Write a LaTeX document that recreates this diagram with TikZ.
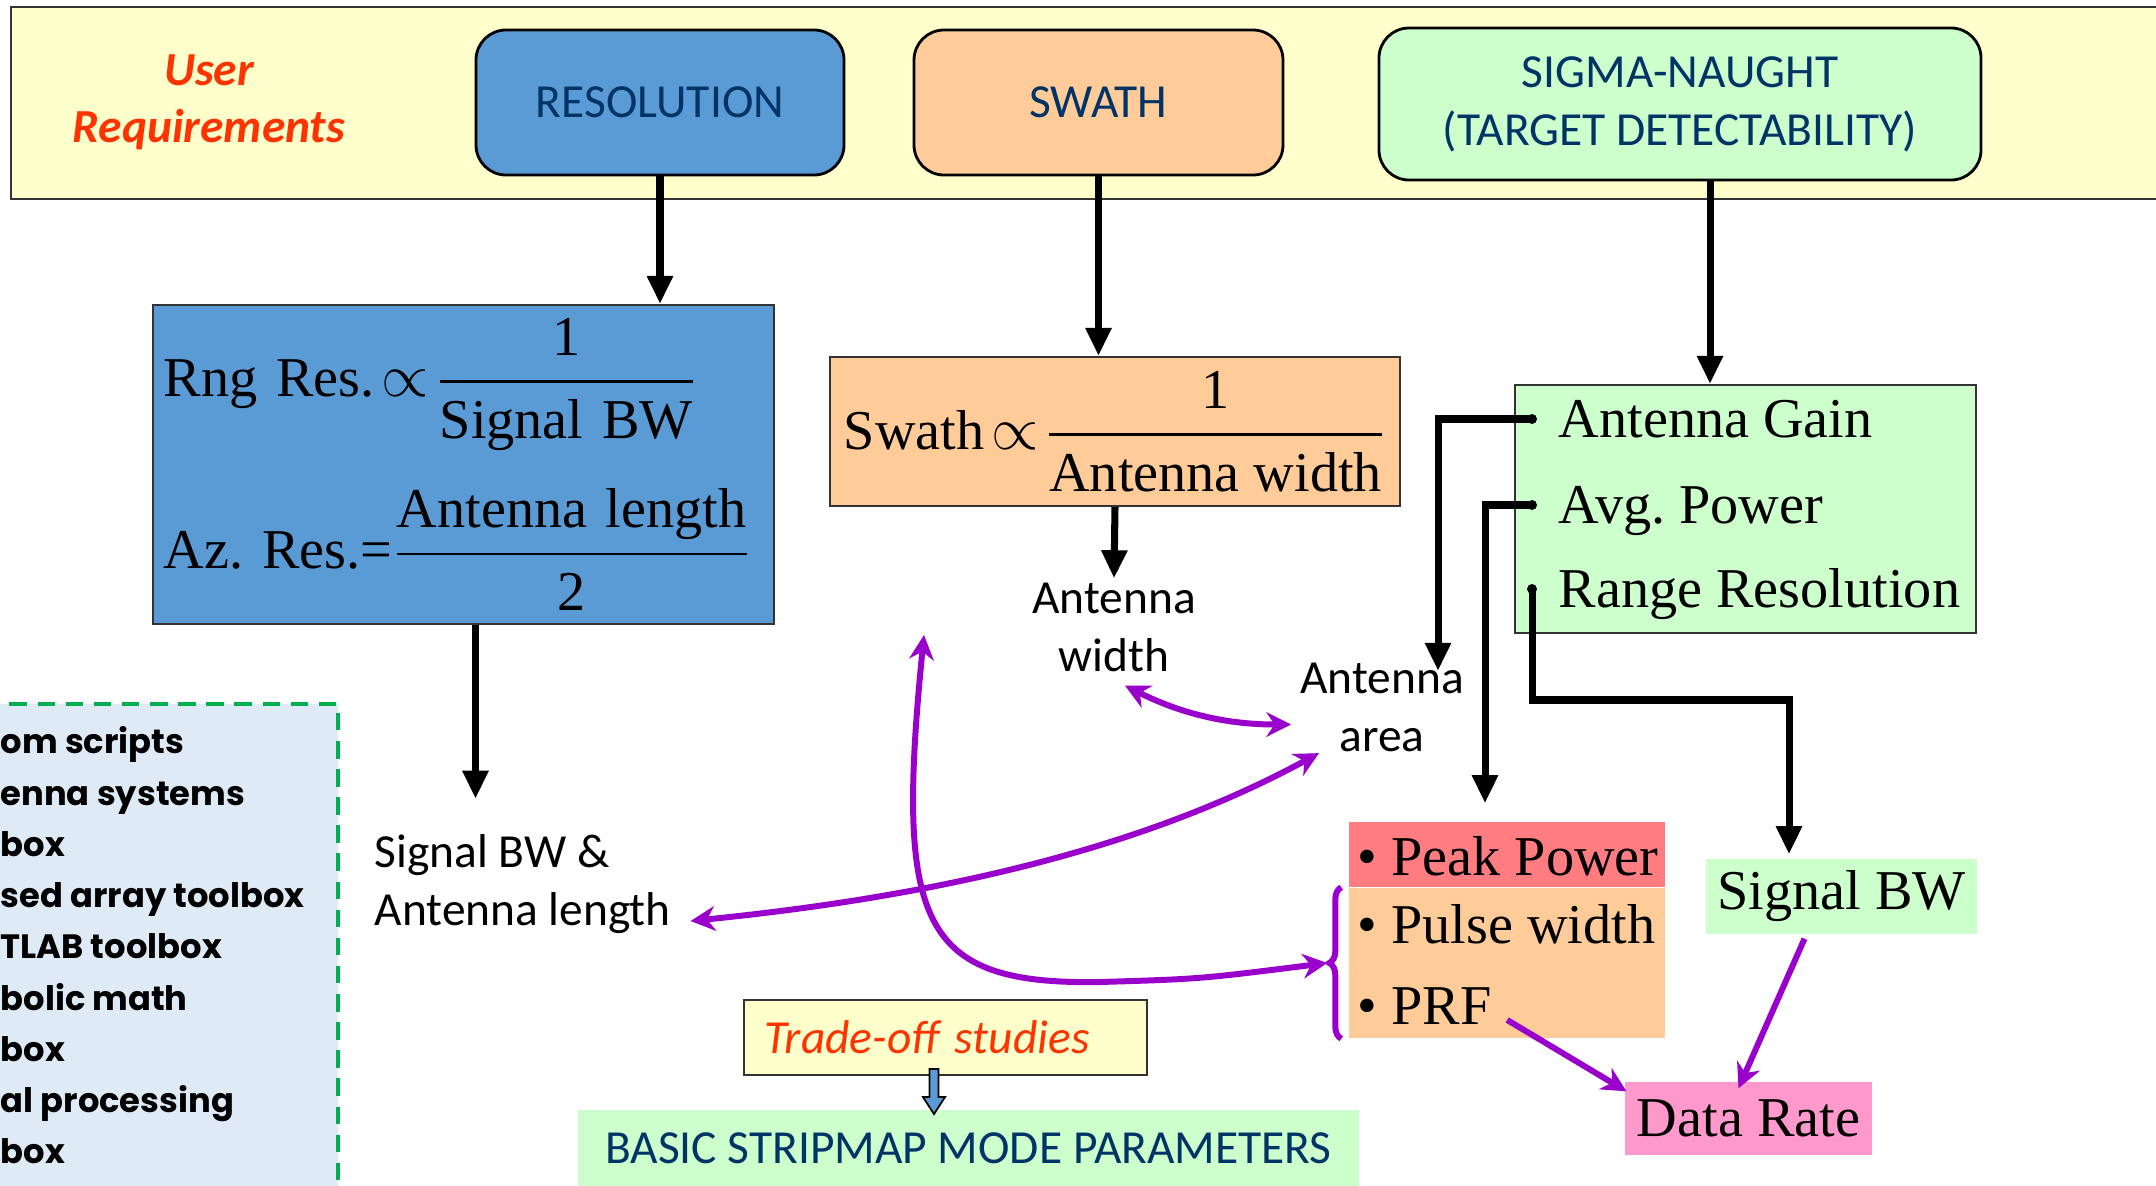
\documentclass[tikz,border=0pt]{standalone}
\usepackage{fontspec}
\usepackage{amsmath}
\setmainfont{Liberation Serif}
\setsansfont{Carlito}
\newfontfamily\toolfont{Poppins}
\frenchspacing
\usetikzlibrary{arrows.meta,positioning,calc,decorations.pathreplacing}

\definecolor{bandyellow}{HTML}{FFFFCC}
\definecolor{resblue}{HTML}{5B9BD5}
\definecolor{swpeach}{HTML}{FFCC99}
\definecolor{siggreen}{HTML}{CCFFCC}
\definecolor{navytxt}{HTML}{003366}
\definecolor{reqred}{HTML}{FF3300}
\definecolor{peakred}{HTML}{FF7C80}
\definecolor{ratepink}{HTML}{FF99CC}
\definecolor{linkpurple}{HTML}{9900CC}
\definecolor{toolblue}{HTML}{DEEBF7}
\definecolor{toolgreen}{HTML}{00B050}

\tikzset{
  reqbox/.style={draw=black, line width=0.8pt, rounded corners=0.3cm, text=navytxt, align=center,
    font=\sffamily\fontsize{13.5}{16.5}\selectfont},
  eqbox/.style={draw=black!80, line width=0.6pt, font=\fontsize{16}{19}\selectfont},
  partxt/.style={inner sep=0pt, font=\fontsize{16}{19}\selectfont},
  lbl/.style={font=\sffamily\fontsize{13.5}{16.5}\selectfont, align=center, inner sep=1pt},
  bul/.style={circle, fill=black, inner sep=0pt, minimum size=0.1cm},
  blk/.style={line width=2pt, -{Triangle[width=7pt,length=8pt]}},
  plink/.style={linkpurple, line width=1.7pt, -{Stealth[length=7pt,width=7pt]}},
  pboth/.style={plink, {Stealth[length=7pt,width=7pt]}-{Stealth[length=7pt,width=7pt]}},
  toolline/.style={font=\toolfont\bfseries\fontsize{9.6}{12}\selectfont, anchor=base west, inner sep=0pt}
}

\begin{document}
\begin{tikzpicture}
\useasboundingbox (0,0) rectangle (21.56,11.85);
\clip (0,0) rectangle (21.56,11.85);

% user requirements band
\filldraw[fill=bandyellow, draw=black!80, line width=0.8pt] (0.11,9.86) rectangle (22,11.78);
\node[font=\sffamily\bfseries\itshape\fontsize{13.5}{16.2}\selectfont, text=reqred, align=center] (usreq) at (2.09,10.83) {User\\Requirements};
\node[reqbox, fill=resblue, minimum width=3.68cm, minimum height=1.45cm] (res) at (6.60,10.825) {RESOLUTION};
\node[reqbox, fill=swpeach, minimum width=3.69cm, minimum height=1.45cm] (swath) at (10.985,10.825) {SWATH};
\node[reqbox, fill=siggreen, minimum width=6.02cm, minimum height=1.52cm] (sigma) at (16.80,10.81) {SIGMA-NAUGHT\\(TARGET DETECTABILITY)};

% tools list (cut by the left edge)
\filldraw[fill=toolblue, draw=toolgreen, line width=1.3pt, dash pattern=on 5pt off 3pt] (-0.5,-0.5) rectangle (3.38,4.81);
\node[toolline] (tl1) at (0,4.32) {om scripts};
\node[toolline] (tl2) at (0,3.80) {enna systems};
\node[toolline] (tl3) at (0,3.29) {box};
\node[toolline] (tl4) at (0,2.78) {sed array toolbox};
\node[toolline] (tl5) at (0,2.27) {TLAB toolbox};
\node[toolline] (tl6) at (0,1.75) {bolic math};
\node[toolline] (tl7) at (0,1.24) {box};
\node[toolline] (tl8) at (0,0.73) {al processing};
\node[toolline] (tl9) at (0,0.22) {box};

% relations
\node[eqbox, fill=resblue, minimum width=6.21cm, minimum height=3.19cm, text width=5.99cm, inner xsep=0.11cm, align=left] (resf) at (4.635,7.205)
  {$\text{Rng Res.}\!\propto\!\dfrac{\text{1}}{\text{Signal BW}}$\\[0.35cm]
   $\text{Az. Res.=}\dfrac{\text{Antenna length}}{\text{2}}$};
\node[eqbox, fill=swpeach, minimum width=5.70cm, minimum height=1.49cm] (swf) at (11.15,7.535)
  {$\text{Swath}\!\propto\!\dfrac{\text{1}}{\text{Antenna width}}$};
\node[draw=black!80, line width=0.6pt, fill=siggreen, minimum width=4.61cm, minimum height=2.48cm] (sgain) at (17.455,6.76) {};
\node[bul] (bgain) at (15.32,7.66) {};
\node[bul] (bavg) at (15.32,6.80) {};
\node[bul] (brng) at (15.32,5.96) {};
\node[partxt, anchor=base west] (gain) at (15.58,7.48) {Antenna Gain};
\node[partxt, anchor=base west] (avgp) at (15.58,6.62) {Avg. Power};
\node[partxt, anchor=base west] (rngres) at (15.58,5.78) {Range Resolution};

\node[lbl, align=left, anchor=west, inner sep=0pt] (sigant) at (3.74,3.01) {Signal BW \&\\Antenna length};
\node[lbl] (antw) at (11.14,5.58) {Antenna\\width};
\node[lbl] (antar) at (13.82,4.775) {Antenna\\area};

% pulse parameters
\node[fill=peakred, minimum width=3.16cm, minimum height=0.65cm] (pp) at (15.07,3.305) {};
\node[partxt, anchor=west] (ppow) at (13.57,3.29) {• Peak Power};
\node[fill=swpeach, minimum width=3.16cm, minimum height=1.50cm] (pw) at (15.07,2.22) {};
\node[partxt, anchor=west] (pwid) at (13.57,2.61) {• Pulse width};
\node[partxt, anchor=west] (prf) at (13.57,1.79) {• PRF};
\node[fill=siggreen, minimum width=2.63cm, minimum height=0.75cm, font=\fontsize{16}{19}\selectfont] (sbw) at (18.415,2.885) {Signal BW};
\node[fill=ratepink, minimum width=2.35cm, minimum height=0.73cm, font=\fontsize{16}{19}\selectfont] (dr) at (17.485,0.665) {Data Rate};
\draw[linkpurple, line width=1.7pt, decorate, decoration={brace, amplitude=0.12cm}] ([xshift=-0.07cm]pw.south west) -- ([xshift=-0.07cm]pw.north west);

% trade-off
\node[draw=black!80, line width=0.6pt, fill=bandyellow, minimum width=4.03cm, minimum height=0.75cm, text width=3.63cm, inner xsep=0.2cm, align=left, text=reqred, font=\sffamily\itshape\fontsize{13.5}{16.5}\selectfont] (trade) at (9.455,1.475) {Trade-off studies};
\node[fill=siggreen, minimum width=7.81cm, minimum height=0.76cm, text=navytxt, font=\sffamily\fontsize{13.5}{16.5}\selectfont] (basic) at (9.685,0.37) {BASIC STRIPMAP MODE PARAMETERS};
\coordinate (tradearr) at ([xshift=-0.115cm,yshift=0.07cm]trade.south);
\filldraw[fill=resblue, draw=black, line width=0.5pt] (tradearr) ++(-0.045,0) -- ++(0,-0.28) -- ++(-0.065,0) -- ++(0.11,-0.17) -- ++(0.11,0.17) -- ++(-0.065,0) -- ++(0,0.28) -- cycle;

% black links
\draw[blk] (res.south) -- (res.south |- resf.north);
\draw[blk] ([xshift=0.12cm]resf.south) -- ([xshift=0.12cm,yshift=0.35cm]resf.south |- sigant.north);
\draw[blk] (swath.south) -- (swath.south |- swf.north);
\draw[blk] (swf.south) -- (antw.north);
\draw[blk] ([xshift=0.30cm]sigma.south) -- ([xshift=0.30cm]sigma.south |- sgain.north);
\draw[blk] (bgain.center) -| ([xshift=0.56cm,yshift=-0.12cm]antar.north);
\draw[blk] (bavg.center) -| ([xshift=-0.22cm,yshift=0.18cm]pp.north);
\draw[blk] (brng.center) -- ++(0,-1.11) -| ([xshift=-0.525cm,yshift=0.04cm]sbw.north);

% purple links
\coordinate (tradetop) at (9.24,5.50);
\draw[pboth] (tradetop) .. controls (8.95,2.6) and (9.2,2.0) .. (11.0,2.03) .. controls (12.0,2.06) .. ([xshift=-0.21cm]pw.west);
\draw[pboth] ([xshift=0.19cm,yshift=-0.37cm]sigant.east) .. controls (9.5,2.9) and (11.5,3.4) .. ([xshift=0.23cm,yshift=0.03cm]antar.south west);
\draw[pboth] ([xshift=0.11cm,yshift=-0.1cm]antw.south) .. controls +(0.6,-0.3) and +(-0.6,0) .. ([xshift=-0.05cm,yshift=-0.17cm]antar.west);
\draw[plink] ([xshift=0.15cm,yshift=-0.14cm]prf.east) -- ([xshift=0.02cm,yshift=-0.1cm]dr.north west);
\draw[plink] ([xshift=-0.37cm,yshift=-0.04cm]sbw.south) -- ([xshift=-0.1cm,yshift=-0.07cm]dr.north);
\end{tikzpicture}
\end{document}
